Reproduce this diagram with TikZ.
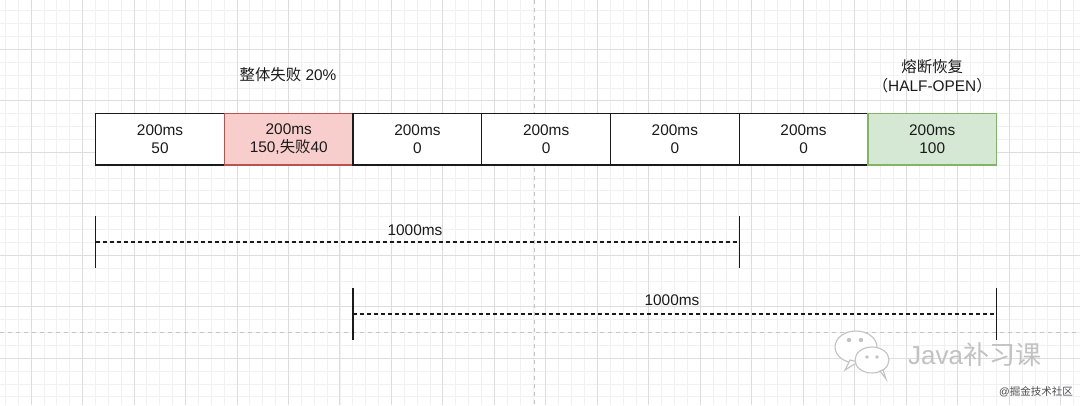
\documentclass[tikz,border=0pt]{standalone}
\usepackage{fontspec}
\setmainfont{Liberation Sans}
\newfontfamily\cjk{Noto Sans CJK SC}
\definecolor{minorgrid}{HTML}{F1F1F3}
\definecolor{majorgrid}{HTML}{DDDDE0}
\definecolor{pagebreak}{HTML}{C4C4C4}
\definecolor{redfill}{HTML}{F8CECC}
\definecolor{redline}{HTML}{B85450}
\definecolor{greenfill}{HTML}{D5E8D4}
\definecolor{greenline}{HTML}{82B366}
\definecolor{txt}{HTML}{1A1A1A}
\definecolor{wm}{HTML}{C2C2C2}
\tikzset{
  box/.style={draw=txt, line width=1.3pt, fill=white, minimum width=128.7pt, minimum height=51.7pt,
    inner sep=0pt, outer sep=0pt, align=center, text=txt, font=\fontsize{15.4}{18}\selectfont},
  redbox/.style={box, draw=redline, fill=redfill},
  greenbox/.style={box, draw=greenline, fill=greenfill},
  lbl/.style={text=txt, font=\fontsize{15.4}{19}\selectfont, align=center, inner sep=0pt},
  tick/.style={draw=txt, line width=1.3pt},
  span/.style={draw=txt, line width=1.4pt, dash pattern=on 4pt off 3pt},
}
\begin{document}
\begin{tikzpicture}[x=1pt, y=-1pt]
\useasboundingbox (0,0) rectangle (1080,405);
\fill[white] (0,0) rectangle (1080,405);
% grid
\foreach \i in {0,...,83} {
  \draw[minorgrid, line width=0.8pt] ({5.3+\i*12.87},0) -- ({5.3+\i*12.87},405);
}
\foreach \i in {0,...,31} {
  \draw[minorgrid, line width=0.8pt] (0,{10.7+\i*12.87}) -- (1080,{10.7+\i*12.87});
}
\foreach \i in {0,...,20} {
  \draw[majorgrid, line width=0.8pt] ({31+\i*51.48},0) -- ({31+\i*51.48},405);
}
\foreach \i in {0,...,6} {
  \draw[majorgrid, line width=0.8pt] (0,{49.3+\i*51.48}) -- (1080,{49.3+\i*51.48});
}
% page breaks
\draw[pagebreak, line width=0.9pt, dash pattern=on 4pt off 4pt] (534,0) -- (534,405);
\draw[pagebreak, line width=0.9pt, dash pattern=on 4pt off 4pt] (0,332.3) -- (1080,332.3);

% boxes
\node[box]      (b1) at (160.05,139.15) {200ms\\50};
\node[redbox]   (b2) at (288.75,139.15) {200ms\\150,{\cjk 失败}40};
\node[box]      (b3) at (417.45,139.15) {200ms\\0};
\node[box]      (b4) at (546.15,139.15) {200ms\\0};
\node[box]      (b5) at (674.85,139.15) {200ms\\0};
\node[box]      (b6) at (803.55,139.15) {200ms\\0};
\node[greenbox] (b7) at (932.25,139.15) {200ms\\100};

% top labels
\node[lbl] (fail) at (288,75) {{\cjk 整体失败} 20\%};
\node[lbl] (half) at (932.25,76.5) {{\cjk 熔断恢复}\\{\cjk （}HALF-OPEN{\cjk ）}};

% timeline 1
\coordinate (t1at) at (95.7,216);
\coordinate (t1ab) at (95.7,267.7);
\coordinate (t1am) at (95.7,241.9);
\coordinate (t1bt) at (739.2,216);
\coordinate (t1bb) at (739.2,267.7);
\coordinate (t1bm) at (739.2,241.9);
\draw[tick] (t1at) -- (t1ab);
\draw[tick] (t1bt) -- (t1bb);
\draw[span] (t1am) -- (t1bm);
\node[lbl] (l1) at (415,230) {1000ms};

% timeline 2
\coordinate (t2at) at (353.1,288.3);
\coordinate (t2ab) at (353.1,340);
\coordinate (t2am) at (353.1,313.9);
\coordinate (t2bt) at (996.7,288.3);
\coordinate (t2bb) at (996.7,340);
\coordinate (t2bm) at (996.7,313.9);
\draw[tick] (t2at) -- (t2ab);
\draw[tick] (t2bt) -- (t2bb);
\draw[span] (t2am) -- (t2bm);
\node[lbl] (l2) at (672,300.5) {1000ms};

% watermark
\begin{scope}[draw=wm, line width=1.1pt, fill=white]
  \filldraw (856,347) ellipse [x radius=21, y radius=16];
  \filldraw (850,360) -- (845,370) -- (858,362) -- cycle;
  \filldraw (872,360) ellipse [x radius=17, y radius=13];
  \filldraw (880,371) -- (886,379) -- (883,370) -- cycle;
  \fill[wm] (849,340) circle (2.2);
  \fill[wm] (861,340) circle (2.2);
  \fill[wm] (867,357) circle (1.8);
  \fill[wm] (877,357) circle (1.8);
\end{scope}
\node[inner sep=0pt, text=wm, font=\fontsize{26}{30}\selectfont, anchor=west] (wmtext) at (908,355) {Java{\cjk 补习课}};
\node[inner sep=0pt, text=black!70, font=\fontsize{10.5}{12}\selectfont, anchor=east] (wmsub) at (1073,392) {@{\cjk 掘金技术社区}};
\end{tikzpicture}
\end{document}
